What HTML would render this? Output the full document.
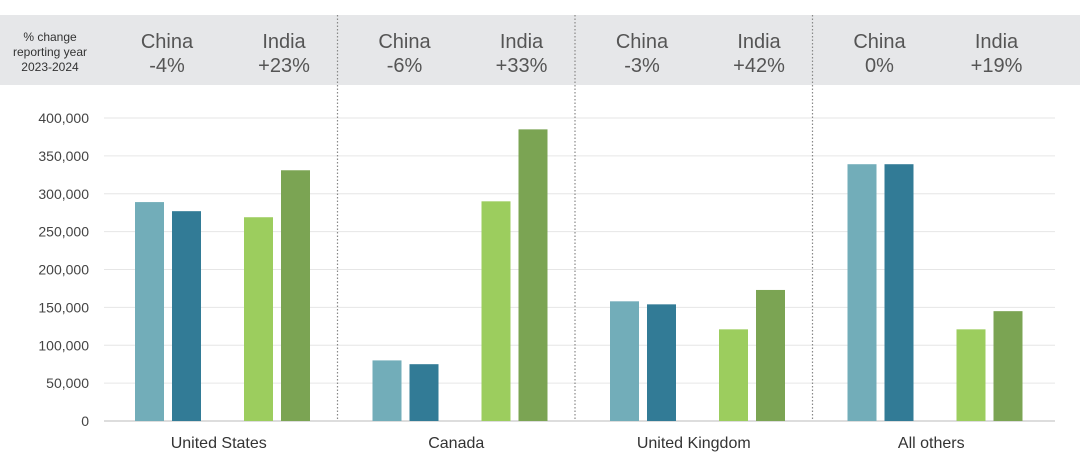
<!DOCTYPE html>
<html><head><meta charset="utf-8"><style>
body{margin:0;background:#fff;font-family:"Liberation Sans",Arial,sans-serif}
svg{display:block}
</style></head><body>
<svg id="c" width="1080" height="456">
<rect x="0" y="15" width="1080" height="70" fill="#e6e7e9"/>
<text x="50" y="41" font-size="12" fill="#333" text-anchor="middle"><tspan x="50">% change</tspan><tspan x="50" dy="15">reporting year</tspan><tspan x="50" dy="15">2023-2024</tspan></text>
</svg>
<script>
const groups = ["United States","Canada","United Kingdom","All others"];
const china2023 = [289000,80000,158000,339000];
const china2024 = [277000,75000,154000,339000];
const india2023 = [269000,290000,121000,121000];
const india2024 = [331000,385000,173000,145000];
const chinaChange = ["-4%","-6%","-3%","0%"];
const indiaChange = ["+23%","+33%","+42%","+19%"];
const yTicks = [0,50000,100000,150000,200000,250000,300000,350000,400000];
const tickLabels = ["0","50,000","100,000","150,000","200,000","250,000","300,000","350,000","400,000"];

const svg = document.getElementById('c');
const NS = 'http://www.w3.org/2000/svg';
const x0 = 100, gw = 237.5, yBase = 421, yTop = 118, yMax = 400000;
const y = v => yBase - v / yMax * (yBase - yTop);
function mk(tag, attrs){const e=document.createElementNS(NS,tag);for(const k in attrs)e.setAttribute(k,attrs[k]);svg.appendChild(e);return e;}

yTicks.forEach((t,i)=>{
  const l = mk('line',{x1:104,x2:1055,y1:y(t),y2:y(t),stroke:i===0?'#bbb':'#e6e6e6','stroke-width':1});
  
  
  const tx = mk('text',{x:89,y:y(t)+5,'font-size':14,fill:'#444','text-anchor':'end'});
  tx.textContent = tickLabels[i];
  
  
});

const offs = [35,72,144,181], bw = 29;
const cols = ['#72adb9','#327b96','#9ccd5e','#7ba453'];
const series = [china2023,china2024,india2023,india2024];
const snames = ['china-2023','china-2024','india-2023','india-2024'];
groups.forEach((g,gi)=>{
  const gx = x0 + gi*gw;
  series.forEach((s,si)=>{
    const r = mk('rect',{x:gx+offs[si],y:y(s[gi]),width:bw,height:yBase-y(s[gi]),fill:cols[si]});
    
    
  });
  const lab = mk('text',{x:gx+gw/2,y:448,'font-size':16,fill:'#333','text-anchor':'middle'});
  lab.textContent = g;
  
  
  const c = mk('text',{x:gx+offs[0]+bw+3,y:48,'font-size':20,fill:'#555','text-anchor':'middle'});
  c.innerHTML = '<tspan x="'+(gx+offs[0]+bw+3)+'">China</tspan><tspan x="'+(gx+offs[0]+bw+3)+'" dy="24">'+chinaChange[gi]+'</tspan>';
  
  
  const ix = gx+offs[2]+bw+11;
  const d = mk('text',{x:ix,y:48,'font-size':20,fill:'#555','text-anchor':'middle'});
  d.innerHTML = '<tspan x="'+ix+'">India</tspan><tspan x="'+ix+'" dy="24">'+indiaChange[gi]+'</tspan>';
  
  
  if(gi>0){
    const dv = mk('line',{x1:gx,x2:gx,y1:15,y2:421,stroke:'#888','stroke-width':1.2,'stroke-dasharray':'1.5,2'});
    
    
  }
});
</script>
</body></html>
